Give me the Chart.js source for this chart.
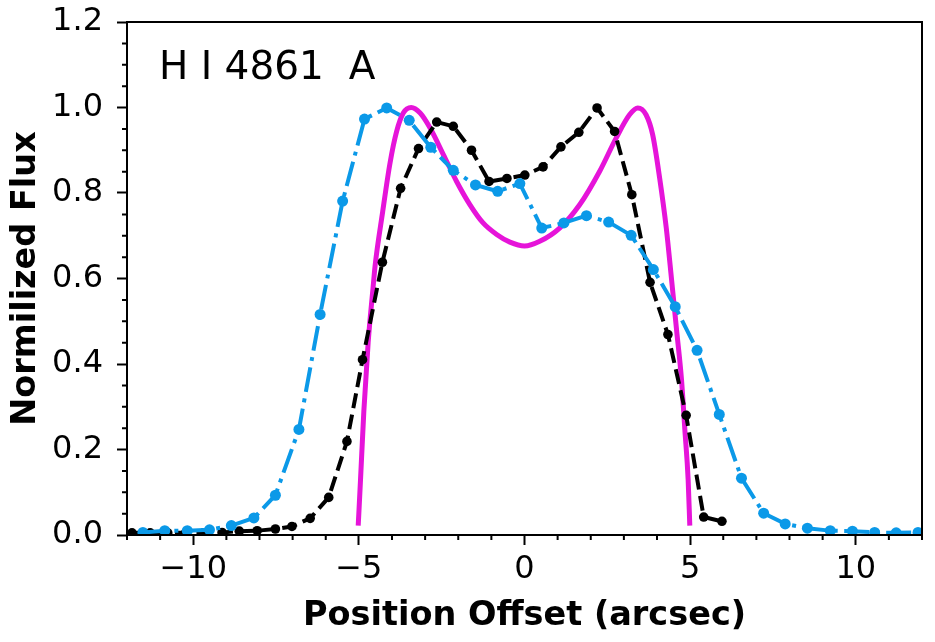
<!DOCTYPE html>
<html><head><meta charset="utf-8">
<script src="https://cdn.jsdelivr.net/npm/chart.js@4/dist/chart.umd.min.js"></script>
<style>html,body{margin:0;padding:0;background:#fff;}canvas{display:block;}</style>
</head><body>
<canvas id="c" width="935" height="642"></canvas>
<script>
// ---- data ----
const blueX = [-11.52,-10.86,-10.18,-9.51,-8.85,-8.17,-7.52,-6.81,-6.17,-5.49,-4.83,-4.16,-3.48,-2.83,-2.15,-1.48,-0.81,-0.14,0.52,1.19,1.87,2.54,3.22,3.89,4.55,5.21,5.88,6.55,7.22,7.87,8.54,9.23,9.90,10.57,11.22,11.88];
const blueY = [0.006,0.010,0.010,0.012,0.022,0.040,0.093,0.247,0.516,0.781,0.973,0.999,0.970,0.907,0.853,0.819,0.804,0.822,0.718,0.730,0.747,0.732,0.701,0.621,0.534,0.432,0.282,0.133,0.051,0.026,0.016,0.010,0.009,0.006,0.005,0.006];

const blackX = [-11.85,-11.30,-10.77,-10.23,-9.69,-9.13,-8.61,-8.07,-7.52,-7.02,-6.47,-5.91,-5.36,-4.89,-4.29,-3.74,-3.20,-2.65,-2.15,-1.60,-1.07,-0.53,0.01,0.56,1.10,1.64,2.19,2.72,3.24,3.79,4.33,4.88,5.41,5.96];
const blackY = [0.005,0.005,0.005,0.005,0.005,0.006,0.009,0.010,0.014,0.020,0.039,0.088,0.219,0.410,0.638,0.811,0.904,0.966,0.956,0.900,0.827,0.834,0.842,0.861,0.908,0.942,0.999,0.944,0.796,0.591,0.469,0.280,0.042,0.032];

const modelX = [-5.02,-4.95,-4.85,-4.72,-4.57,-4.51,-4.28,-4.06,-3.86,-3.66,-3.42,-3.15,-2.85,-2.45,-2.05,-1.65,-1.25,-0.84,-0.44,0.00,0.46,1.06,1.67,2.27,2.77,3.17,3.42,3.67,3.87,4.08,4.28,4.44,4.59,4.74,4.84,4.94,4.99];
const modelY = [0.022,0.130,0.290,0.450,0.580,0.630,0.757,0.870,0.944,0.987,1.000,0.987,0.952,0.890,0.827,0.773,0.730,0.703,0.685,0.676,0.687,0.718,0.773,0.851,0.929,0.983,0.999,0.983,0.936,0.835,0.718,0.597,0.480,0.363,0.247,0.130,0.022];

const xMajorTicks = [-10,-5,0,5,10];
const xMinorTicks = [-12,-11,-9,-8,-7,-6,-4,-3,-2,-1,1,2,3,4,6,7,8,9,11,12];
const yMajorTicks = [0,0.2,0.4,0.6,0.8,1.0,1.2];
const yMinorTicks = [0.05,0.1,0.15,0.25,0.3,0.35,0.45,0.5,0.55,0.65,0.7,0.75,0.85,0.9,0.95,1.05,1.1,1.15];

const panelLabel = 'H I 4861  A';
const xTitle = 'Position Offset (arcsec)';
const yTitle = 'Normilized Flux';

// ---- styles ----
const BLUE = '#0b99e8';
const MAGENTA = '#e614d9';
const FONT = 'DejaVu Sans';

const toPts = (xs, ys) => xs.map((x, i) => ({x: x, y: ys[i]}));

const framePlugin = {
  id: 'frame',
  afterDatasetsDraw(chart) {
    const {ctx, chartArea: a, scales: {x, y}} = chart;
    ctx.save();
    ctx.strokeStyle = '#000';
    ctx.lineWidth = 2;
    ctx.beginPath();
    xMinorTicks.forEach(v => { const p = x.getPixelForValue(v); ctx.moveTo(p, a.bottom); ctx.lineTo(p, a.bottom + 5); });
    yMinorTicks.forEach(v => { const p = y.getPixelForValue(v); ctx.moveTo(a.left, p); ctx.lineTo(a.left - 5, p); });
    ctx.stroke();
    ctx.strokeRect(a.left, a.top, a.right - a.left, a.bottom - a.top);
    ctx.fillStyle = '#000';
    ctx.font = '39px "' + FONT + '"';
    ctx.textBaseline = 'alphabetic';
    ctx.textAlign = 'left';
    ctx.fillText(panelLabel, a.left + 32, a.top + 57);
    ctx.restore();
  }
};

const tickFont = {family: FONT, size: 32, lineHeight: 1};
const titleFont = {family: FONT, size: 33.5, weight: 'bold', lineHeight: 1};

new Chart(document.getElementById('c'), {
  type: 'line',
  data: {
    datasets: [
      {
        label: 'blue', data: toPts(blueX, blueY), order: 0,
        borderColor: BLUE, backgroundColor: BLUE, borderWidth: 4,
        borderDash: [25, 6.5, 4, 6.5], borderCapStyle: 'butt',
        pointRadius: 5.5, pointBackgroundColor: BLUE, pointBorderWidth: 0,
        tension: 0, fill: false, clip: 0
      },
      {
        label: 'black', data: toPts(blackX, blackY), order: 1,
        borderColor: '#000', backgroundColor: '#000', borderWidth: 4,
        borderDash: [15, 6.5], borderCapStyle: 'butt',
        pointRadius: 4.8, pointBackgroundColor: '#000', pointBorderWidth: 0,
        tension: 0, fill: false, clip: 0
      },
      {
        label: 'model', data: toPts(modelX, modelY), order: 2,
        borderColor: MAGENTA, borderWidth: 5, pointRadius: 0,
        cubicInterpolationMode: 'monotone', fill: false, clip: 0
      }
    ]
  },
  options: {
    responsive: false, animation: false, devicePixelRatio: 1, events: [],
    layout: {padding: {left: 0, top: 22, right: 13, bottom: 0}},
    plugins: {legend: {display: false}, tooltip: {enabled: false}, title: {display: false}},
    scales: {
      x: {
        type: 'linear', min: -12, max: 12,
        afterBuildTicks: s => { s.ticks = xMajorTicks.map(v => ({value: v})); },
        afterFit: s => { s.height = 107; s.paddingLeft = 0; s.paddingRight = 0; s.paddingTop = 0; s.paddingBottom = 0; },
        ticks: {
          callback: v => (v < 0 ? '\u2212' : '') + Math.abs(v),
          font: tickFont, color: '#000', padding: 9, maxRotation: 0, autoSkip: false
        },
        grid: {display: true, drawOnChartArea: false, drawTicks: true, tickLength: 10, tickWidth: 2, tickColor: '#000'},
        border: {display: false},
        title: {display: true, text: xTitle, font: titleFont, color: '#000', padding: {top: 0, bottom: 9}}
      },
      y: {
        type: 'linear', min: 0, max: 1.2,
        afterBuildTicks: s => { s.ticks = yMajorTicks.map(v => ({value: v})); },
        afterFit: s => { s.width = 127; s.paddingLeft = 0; s.paddingRight = 0; s.paddingTop = 0; s.paddingBottom = 0; },
        ticks: {
          callback: v => v.toFixed(1),
          font: tickFont, color: '#000', padding: 14, autoSkip: false
        },
        grid: {display: true, drawOnChartArea: false, drawTicks: true, tickLength: 10, tickWidth: 2, tickColor: '#000'},
        border: {display: false},
        title: {display: true, text: yTitle, font: titleFont, color: '#000', padding: {top: 10, bottom: 0}}
      }
    }
  },
  plugins: [framePlugin]
});
</script>
</body></html>
